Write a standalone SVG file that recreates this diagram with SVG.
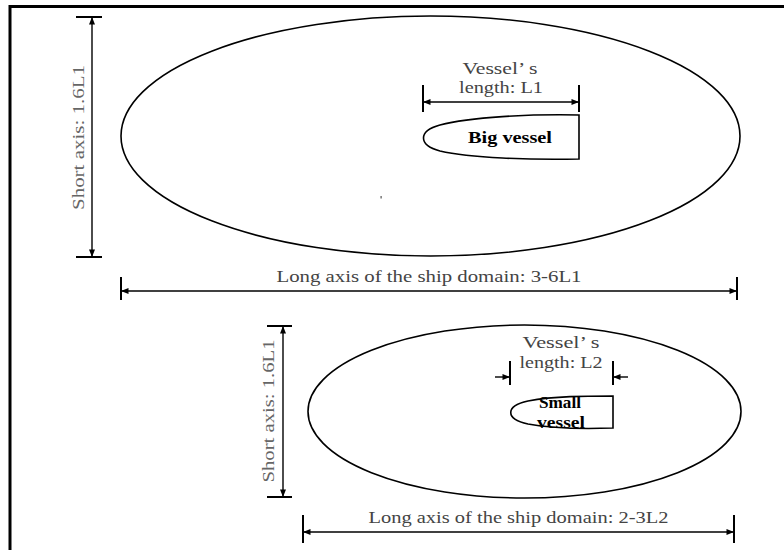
<svg xmlns="http://www.w3.org/2000/svg" width="784" height="550" viewBox="0 0 784 550">
<style>
.fr{fill:none;stroke:#000;stroke-width:3}
.el{fill:none;stroke:#000;stroke-width:1.6}
.dim{fill:none;stroke:#000;stroke-width:1.4}
.tk{fill:none;stroke:#000;stroke-width:2}
.hull{fill:#fff;stroke:#000;stroke-width:1.6}
.t{font-family:"Liberation Serif","Times New Roman",serif;font-size:16px;fill:#444}
.tv{font-family:"Liberation Serif","Times New Roman",serif;font-size:16px;fill:#666}
.tb{font-family:"Liberation Serif","Times New Roman",serif;font-size:16px;font-weight:bold;fill:#000}
</style>
<defs>
<marker id="ah" viewBox="0 0 10 8" refX="10" refY="4" markerWidth="9" markerHeight="6" markerUnits="userSpaceOnUse" orient="auto-start-reverse">
<path d="M0,0 L10,4 L0,8 Z" fill="#000"/>
</marker>
</defs>
<rect width="784" height="550" fill="#fff"/>
<rect class="fr" x="10" y="6.5" width="800" height="600"/>

<g id="big-domain">
<ellipse class="el" cx="430.5" cy="136" rx="309.5" ry="120"/>
</g>
<g id="big-vessel">
<path class="hull" d="M579,115 C530,114 470,117 440,125 C418,131 418,145 440,151 C470,158 530,160 579,159 Z"/>
<text class="tb" x="510" y="143" text-anchor="middle" textLength="84" lengthAdjust="spacingAndGlyphs">Big vessel</text>
</g>
<g id="small-domain">
<ellipse class="el" cx="524.5" cy="411.5" rx="216.5" ry="86.5"/>
</g>
<g id="small-vessel">
<path class="hull" d="M613,396 C585,396 555,396 528,401 C505,406 505,419 528,424 C555,429 585,429 613,428 Z"/>
<text class="tb" x="560" y="408" text-anchor="middle" textLength="42" lengthAdjust="spacingAndGlyphs">Small</text>
<text class="tb" x="561" y="428" text-anchor="middle" textLength="48" lengthAdjust="spacingAndGlyphs">vessel</text>
</g>

<g id="connectors">
<line class="dim" x1="92" y1="17" x2="92" y2="257" marker-start="url(#ah)" marker-end="url(#ah)"/>
<line class="tk" x1="76" y1="17" x2="102" y2="17"/>
<line class="tk" x1="76" y1="257" x2="102" y2="257"/>

<line class="dim" x1="121" y1="291" x2="737" y2="291" marker-start="url(#ah)" marker-end="url(#ah)"/>
<line class="tk" x1="121" y1="277" x2="121" y2="300"/>
<line class="tk" x1="737" y1="277" x2="737" y2="300"/>

<line class="dim" x1="423" y1="102" x2="579" y2="102" marker-start="url(#ah)" marker-end="url(#ah)"/>
<line class="tk" x1="423" y1="85" x2="423" y2="112"/>
<line class="tk" x1="579" y1="85" x2="579" y2="112"/>

<line class="dim" x1="283" y1="326" x2="283" y2="497" marker-start="url(#ah)" marker-end="url(#ah)"/>
<line class="tk" x1="267" y1="326" x2="292" y2="326"/>
<line class="tk" x1="267" y1="497" x2="292" y2="497"/>

<line class="dim" x1="303" y1="532" x2="734" y2="532" marker-start="url(#ah)" marker-end="url(#ah)"/>
<line class="tk" x1="303" y1="515" x2="303" y2="543"/>
<line class="tk" x1="734" y1="515" x2="734" y2="543"/>

<line class="dim" x1="495" y1="377" x2="510" y2="377" marker-end="url(#ah)"/>
<line class="dim" x1="628" y1="377" x2="613" y2="377" marker-end="url(#ah)"/>
<line class="tk" x1="510" y1="361" x2="510" y2="385"/>
<line class="tk" x1="613" y1="361" x2="613" y2="385"/>
<rect x="380.5" y="196" width="1.2" height="2.5" fill="#555"/>
</g>

<g id="labels">
<text class="tv" transform="translate(84,137.5) rotate(-90)" text-anchor="middle" textLength="145" lengthAdjust="spacingAndGlyphs">Short axis: 1.6L1</text>
<text class="tv" transform="translate(274,411) rotate(-90)" text-anchor="middle" textLength="143" lengthAdjust="spacingAndGlyphs">Short axis: 1.6L1</text>
<text class="t" x="429" y="282" text-anchor="middle" textLength="305" lengthAdjust="spacingAndGlyphs">Long axis of the ship domain: 3-6L1</text>
<text class="t" x="518.5" y="523" text-anchor="middle" textLength="300" lengthAdjust="spacingAndGlyphs">Long axis of the ship domain: 2-3L2</text>
<text class="t" x="500" y="74" text-anchor="middle" textLength="75" lengthAdjust="spacingAndGlyphs">Vessel’ s</text>
<text class="t" x="501" y="93" text-anchor="middle" textLength="84" lengthAdjust="spacingAndGlyphs">length: L1</text>
<text class="t" x="561" y="348" text-anchor="middle" textLength="77" lengthAdjust="spacingAndGlyphs">Vessel’ s</text>
<text class="t" x="561" y="368" text-anchor="middle" textLength="83" lengthAdjust="spacingAndGlyphs">length: L2</text>
</g>
</svg>
